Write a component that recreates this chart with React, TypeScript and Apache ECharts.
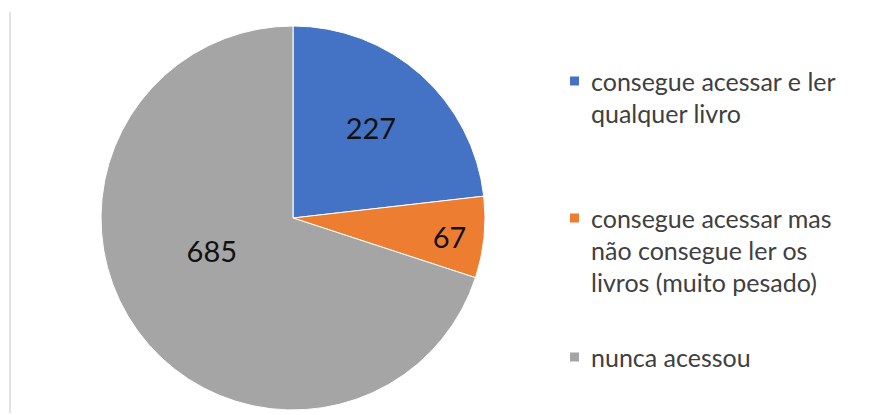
import React, { useEffect, useRef } from "react";
import * as echarts from "echarts";

const categories = [
  "consegue acessar e ler\nqualquer livro",
  "consegue acessar mas\nnão consegue ler os\nlivros (muito pesado)",
  "nunca acessou",
];
const values = [227, 67, 685];
const colors = ["#4472C4", "#ED7D31", "#A5A5A5"];
// label nudges to mimic spreadsheet label placement
const labelShiftX = [12, 58, -1];
const labelShiftY = [-17, 9, -26];
const legendCenters = [81, 218, 357];
const LINE_H = 32;

export default function App() {
  const ref = useRef<HTMLDivElement>(null);
  useEffect(() => {
    const chart = echarts.init(ref.current!, undefined, { renderer: "svg" });
    const legends = categories.map((name, i) => {
      const n = name.split("\n").length;
      const block = (2 * n - 1) * LINE_H;
      return {
        orient: "vertical",
        left: 568,
        top: legendCenters[i] - block / 2,
        padding: 0,
        selectedMode: false,
        icon: "rect",
        itemWidth: 11,
        itemHeight: 11,
        data: [name],
        formatter: (nm: string) => "\n".repeat(n - 1) + nm,
        textStyle: {
          fontFamily: "Lato",
          fontSize: 25,
          color: "#404040",
          lineHeight: LINE_H,
          padding: [0, 0, 0, 6],
        },
      };
    });
    chart.setOption({
      animation: false,
      backgroundColor: "#ffffff",
      legend: legends,
      graphic: [
        {
          type: "line",
          shape: { x1: 10, y1: 12, x2: 10, y2: 413 },
          style: { stroke: "#d9d9d9", lineWidth: 1.5 },
        },
      ],
      series: [
        {
          type: "pie",
          center: [293, 218],
          radius: 192,
          startAngle: 90,
          clockwise: true,
          avoidLabelOverlap: false,
          itemStyle: { borderColor: "#ffffff", borderWidth: 1 },
          label: {
            show: true,
            position: "inside",
          },
          labelLine: { show: false },
          data: categories.map((name, i) => {
            const dy = labelShiftY[i];
            const dx = labelShiftX[i];
            const gap = Math.abs(dy) * 2;
            const formatter =
              dy < 0 ? "{v|{c}}\n{g| }" : "{g| }\n{v|{c}}";
            return {
              name,
              value: values[i],
              itemStyle: { color: colors[i] },
              label: {
                formatter,
                padding: dx > 0 ? [0, 0, 0, dx * 2] : [0, -dx * 2, 0, 0],
                rich: {
                  v: { fontFamily: "Lato", fontSize: 29, color: "#111111", lineHeight: 34 },
                  g: { fontSize: 1, lineHeight: gap },
                },
              },
            };
          }),
        },
      ],
    });
    return () => chart.dispose();
  }, []);
  return (
    <div
      ref={ref}
      style={{ position: "fixed", left: 0, top: 0, width: 874, height: 415 }}
    />
  );
}
